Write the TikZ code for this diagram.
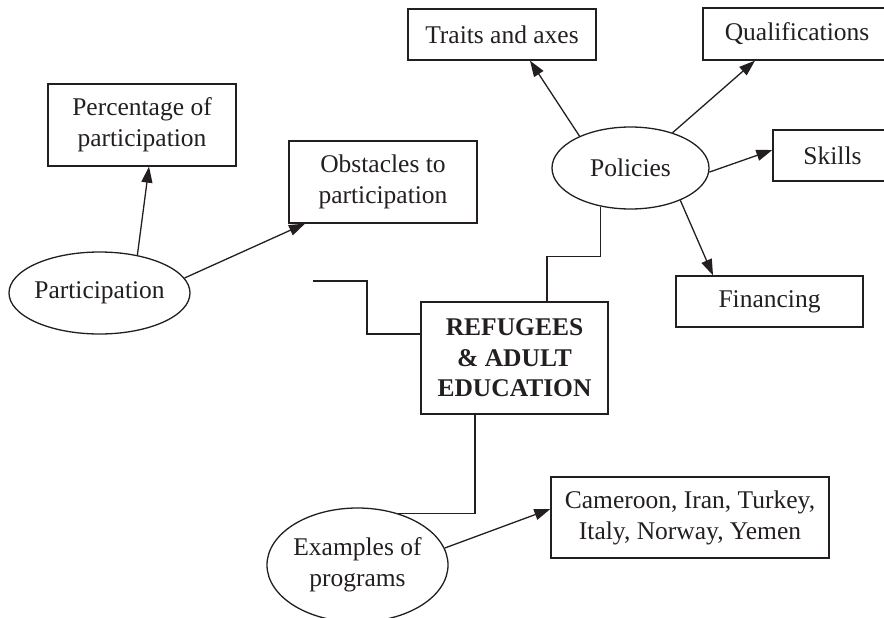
\documentclass[tikz,border=0pt]{standalone}
\usepackage{fontspec}
\setmainfont{Liberation Serif}
\usetikzlibrary{arrows.meta,shapes.geometric}
\definecolor{ink}{HTML}{231F20}
\begin{document}
\begin{tikzpicture}[x=1pt,y=-1pt,
  every node/.style={font=\fontsize{25.5}{31}\selectfont, text=ink},
  box/.style={draw=ink, line width=1.3pt, rectangle, inner sep=0pt, align=center},
  ell/.style={draw=ink, line width=1.3pt, ellipse, inner sep=0pt},
  conn/.style={draw=ink, line width=1.3pt},
  arr/.style={conn, -{Triangle[length=16pt,width=11pt]}}]
\useasboundingbox (0,0) rectangle (884,618);
\clip (0,0) rectangle (884,618);
% boxes
\node[box, minimum width=188pt, minimum height=82pt] (perc) at (142,125) {Percentage of\\participation};
\node[box, minimum width=188pt, minimum height=82pt] (obst) at (383,182) {Obstacles to\\participation};
\node[box, minimum width=187pt, minimum height=112pt, font=\bfseries\fontsize{25.5}{30.5}\selectfont] (ref) at (514.5,358) {REFUGEES\\\& ADULT\\EDUCATION};
\node[box, minimum width=188pt, minimum height=51pt] (traits) at (502,34.5) {Traits and axes};
\node[box, minimum width=188pt, minimum height=52pt] (qual) at (797,34) {Qualifications};
\node[box, minimum width=119pt, minimum height=51pt] (skills) at (832.5,155.5) {Skills};
\node[box, minimum width=187pt, minimum height=51pt] (fin) at (769.5,301.5) {Financing};
\node[box, minimum width=278pt, minimum height=81pt] (cam) at (690,517.5) {Cameroon, Iran, Turkey,\\Italy, Norway, Yemen};
% ellipses
\node[ell, minimum width=181pt, minimum height=82pt, label={[align=center]center:Participation}] (part) at (99.5,293) {};
\node[ell, minimum width=157pt, minimum height=82pt, label={[align=center]center:Policies}] (pol) at (630.5,168) {};
\node[ell, minimum width=181pt, minimum height=114pt, label={[align=center]center:Examples of\\programs}] (ex) at (357.5,565) {};
% connectors
\draw[arr] (part.45) -- ([xshift=7pt]perc.south);
\draw[arr] (part.10.5) -- ([xshift=-78pt]obst.south);
\coordinate (s) at (313,281);
\draw[conn] (s) -- ++(54,0) |- ([yshift=24pt]ref.west);
\draw[conn] ([xshift=32.5pt]ref.north) -- ++(0,-45) -| (pol.232);
\draw[conn] ([xshift=-39.5pt]ref.south) |- (ex.52.4);
\draw[arr] (ex.11.6) -- ([yshift=8.5pt]cam.west);
\draw[arr] (pol.148) -- ([xshift=28pt]traits.south);
\draw[arr] (pol.40.9) -- ([xshift=-42pt]qual.south);
\draw[arr] (pol.-3.6) -- ([yshift=5.5pt]skills.west);
\draw[arr] (pol.-33.1) -- ([xshift=-56.5pt]fin.north);
\end{tikzpicture}
\end{document}
